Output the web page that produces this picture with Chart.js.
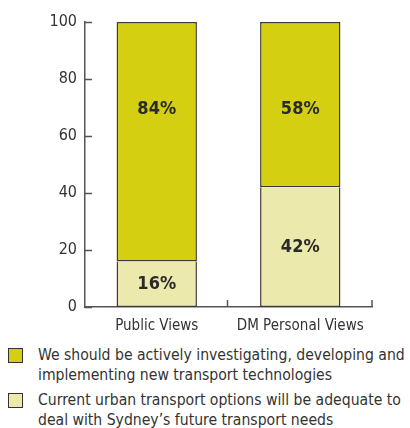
<!DOCTYPE html>
<html>
<head>
<meta charset="utf-8">
<script src="https://cdn.jsdelivr.net/npm/chart.js@4"></script>
<style>
  body { margin: 0; background: #fff; font-family: 'DejaVu Sans Condensed', 'DejaVu Sans', sans-serif; color: #333; }
  #wrap { position: relative; width: 410px; height: 428px; }
  canvas { position: absolute; left: 0; top: 0; }
  .legend { position: absolute; left: 8px; font-size: 15.6px; line-height: 20px; }
  .legend .box { position: absolute; left: 0; top: 3px; width: 13px; height: 13px; border: 1px solid #333; }
  .legend .txt { margin-left: 30px; white-space: nowrap; }
</style>
</head>
<body>
<div id="wrap">
  <canvas id="chart" width="410" height="335"></canvas>
  <div class="legend" style="top:345px"><div class="box" style="background:#d4cf11"></div><div class="txt" id="t1"></div></div>
  <div class="legend" style="top:390px"><div class="box" style="background:#ebe9ab"></div><div class="txt" id="t2"></div></div>
</div>
<script>
document.addEventListener('DOMContentLoaded', () => {
    // Values
    const categories = ['Public Views', 'DM Personal Views'];
    const adequate = [16, 42];
    const investigating = [84, 58];
    const seriesNames = [
        'We should be actively investigating, developing and<br>implementing new transport technologies',
        'Current urban transport options will be adequate to<br>deal with Sydney\u2019s future transport needs'
    ];
    const yTicks = [0, 20, 40, 60, 80, 100];

    const darkYellow = '#d4cf11';
    const lightYellow = '#ebe9ab';
    const lineColor = '#3a3a3a';
    const fontFamily = "'DejaVu Sans Condensed', 'DejaVu Sans', sans-serif";

    document.getElementById('t1').innerHTML = seriesNames[0];
    document.getElementById('t2').innerHTML = seriesNames[1];

    // Inward tick marks on both axes
    const innerTicks = {
        id: 'innerTicks',
        afterDraw(chart) {
            const ctx = chart.ctx;
            const y = chart.scales.y;
            const x = chart.scales.x;
            ctx.save();
            ctx.strokeStyle = '#555';
            ctx.lineWidth = 1.5;
            ctx.beginPath();
            yTicks.forEach(v => {
                const py = Math.round(y.getPixelForValue(v)) + 0.5;
                ctx.moveTo(x.left, py);
                ctx.lineTo(x.left + 7, py);
            });
            for (let i = 0; i < categories.length; i++) {
                const px = Math.round((x.getPixelForValue(i) + x.getPixelForValue(i + 1)) / 2) - 1.5;
                const pr = i === categories.length - 1 ? x.right : px;
                ctx.moveTo(pr, y.bottom);
                ctx.lineTo(pr, y.bottom - 7);
            }
            ctx.stroke();
            ctx.restore();
        }
    };

    // Percent labels; top segment labels share one row, like the original
    const segLabels = {
        id: 'segLabels',
        afterDatasetsDraw(chart) {
            const ctx = chart.ctx;
            ctx.save();
            ctx.font = 'bold 18px ' + fontFamily;
            ctx.fillStyle = '#2a2a2a';
            ctx.textAlign = 'center';
            ctx.textBaseline = 'middle';
            chart.data.datasets.forEach((ds, di) => {
                const bars = chart.getDatasetMeta(di).data;
                const mids = bars.map(b => (b.y + b.base) / 2);
                const top = di === chart.data.datasets.length - 1;
                bars.forEach((bar, i) => {
                    const yy = top ? Math.min(...mids) + 5 : mids[i];
                    ctx.fillText(ds.data[i] + '%', bar.x, yy);
                });
            });
            ctx.restore();
        }
    };

    new Chart(document.getElementById('chart'), {
        type: 'bar',
        data: {
            labels: categories,
            datasets: [
                {
                    label: 'Current urban transport options will be adequate',
                    data: adequate,
                    backgroundColor: lightYellow,
                    borderColor: lineColor,
                    borderWidth: 1.5,
                    borderSkipped: 'top'
                },
                {
                    label: 'We should be actively investigating',
                    data: investigating,
                    backgroundColor: darkYellow,
                    borderColor: lineColor,
                    borderWidth: 1.5,
                    borderSkipped: false
                }
            ]
        },
        options: {
            responsive: false,
            animation: false,
            devicePixelRatio: 1,
            layout: { padding: { top: 22, right: 38, left: 0, bottom: 0 } },
            categoryPercentage: 1,
            barPercentage: 0.56,
            plugins: {
                legend: { display: false },
                tooltip: { enabled: false }
            },
            scales: {
                x: {
                    stacked: true,
                    grid: { display: false, drawTicks: false },
                    border: { display: true, color: '#555', width: 1.5 },
                    ticks: { color: '#333', padding: 10, font: { family: fontFamily, size: 15 } },
                    afterFit: s => { s.height = 28; }
                },
                y: {
                    stacked: true,
                    min: 0,
                    max: 100,
                    afterBuildTicks: s => { s.ticks = yTicks.map(v => ({ value: v })); },
                    grid: { display: false, drawTicks: false },
                    border: { display: true, color: '#555', width: 1.5 },
                    ticks: { color: '#333', padding: 8, font: { family: fontFamily, size: 16 } },
                    afterFit: s => { s.width = 85; }
                }
            }
        },
        plugins: [innerTicks, segLabels]
    });
});
</script>
</body>
</html>
